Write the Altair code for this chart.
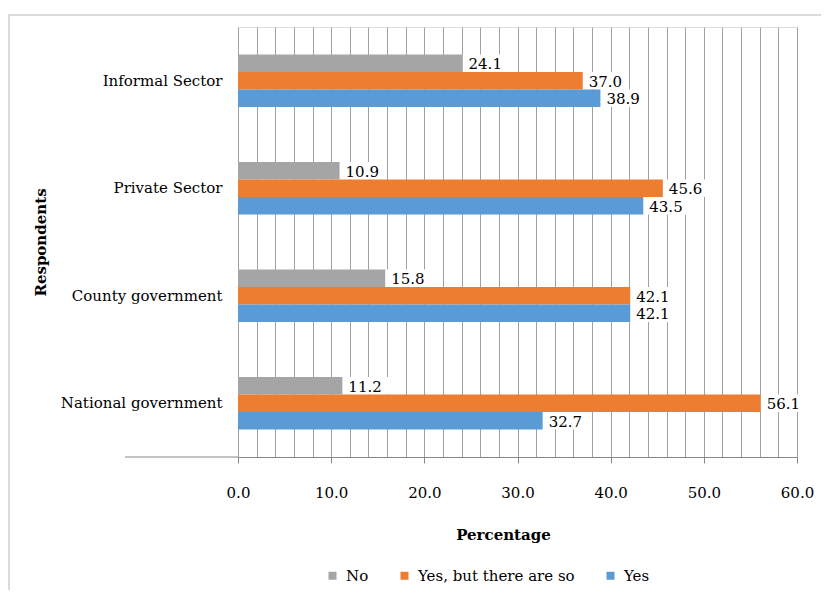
import altair as alt
import pandas as pd

categories = ["Informal Sector", "Private Sector", "County government", "National government"]
series = ["No", "Yes, but there are so", "Yes"]
no_vals = [24.1, 10.9, 15.8, 11.2]
yesbut_vals = [37.0, 45.6, 42.1, 56.1]
yes_vals = [38.9, 43.5, 42.1, 32.7]
colors = ["#A5A5A5", "#ED7D31", "#5B9BD5"]
grid_vals = list(range(0, 61, 2))

rows = []
for i, c in enumerate(categories):
    for s, vals in zip(series, [no_vals, yesbut_vals, yes_vals]):
        rows.append({"cat": c, "series": s, "val": vals[i]})
df = pd.DataFrame(rows)

FONT = "DejaVu Serif"
W, H = 559, 430

xscale = alt.Scale(domain=[0, 60], nice=False, zero=True)
yscale = alt.Scale(domain=categories, paddingInner=0.512, paddingOuter=0.256)
offscale = alt.Scale(domain=series, paddingInner=0, paddingOuter=0)

xaxis = alt.Axis(values=grid_vals, grid=True, gridColor="#A0A0A0", gridWidth=1,
                 title="Percentage", titleFont=FONT, titleFontSize=15,
                 titleFontWeight="bold", titleColor="#000",
                 titleX=265, titleY=77, titleBaseline="middle",
                 labelFont=FONT, labelFontSize=15, labelColor="#000",
                 labelExpr="datum.value % 10 == 0 ? format(datum.value, '.1f') : ''",
                 labelPadding=22, tickSize=6, tickColor="#888888",
                 tickOpacity={"condition": {"test": "datum.value % 10 == 0", "value": 1}, "value": 0},
                 domainColor="#888888", domainWidth=1, labelOverlap=False,
                 labelFlush=False)

yaxis = alt.Axis(title="Respondents", titleFont=FONT, titleFontSize=15,
                 titleFontWeight="bold", titleColor="#000",
                 titleX=-198, titleY=215, titleAngle=-90, titleBaseline="middle",
                 labelFont=FONT, labelFontSize=15, labelColor="#000",
                 labelPadding=16, ticks=False, domain=False, grid=False)

base = alt.Chart(df).encode(
    x=alt.X("val:Q", scale=xscale, axis=xaxis),
    y=alt.Y("cat:N", scale=yscale, sort=categories, axis=yaxis),
    yOffset=alt.YOffset("series:N", scale=offscale, sort=series),
)

bars = base.mark_bar().encode(
    color=alt.Color("series:N", scale=alt.Scale(domain=series, range=colors), sort=series,
                    legend=alt.Legend(title=None, orient="none", direction="horizontal",
                                      legendX=87, legendY=541, symbolType="square",
                                      symbolSize=64, symbolStrokeWidth=0,
                                      labelFont=FONT, labelFontSize=15, labelColor="#000",
                                      columnPadding=28, labelOffset=6)),
)

# white backing behind the data labels (as in the original, labels hide the gridlines)
label_bg = base.transform_calculate(label_end="datum.val + 4.9").mark_bar(
    color="white"
).encode(
    x2=alt.X2("label_end:Q"),
)

labels = base.mark_text(align="left", dx=6, dy=1, font=FONT, fontSize=15, color="#000").encode(
    text=alt.Text("val:Q", format=".1f"),
)

ext = alt.Chart(pd.DataFrame({"a": [0]})).mark_rule(color="#888888", strokeWidth=1).encode(
    x=alt.value(-113), x2=alt.value(0), y=alt.value(H)
)

border = alt.Chart(pd.DataFrame({"a": [0]})).mark_rect(
    fill="transparent", stroke="#D0D0D0", strokeWidth=1.5
).encode(
    x=alt.value(-229), x2=alt.value(W + 60), y=alt.value(-12), y2=alt.value(H + 200)
)

chart = alt.layer(border, label_bg, bars, labels, ext).properties(
    width=W, height=H,
    autosize=alt.AutoSizeParams(type="none"),
    padding={"left": 230, "top": 19, "right": 24, "bottom": 133},
).configure_view(stroke="transparent", strokeWidth=0).configure(background="white")

chart.save("out.html", embed_options={"renderer": "svg", "actions": False})
